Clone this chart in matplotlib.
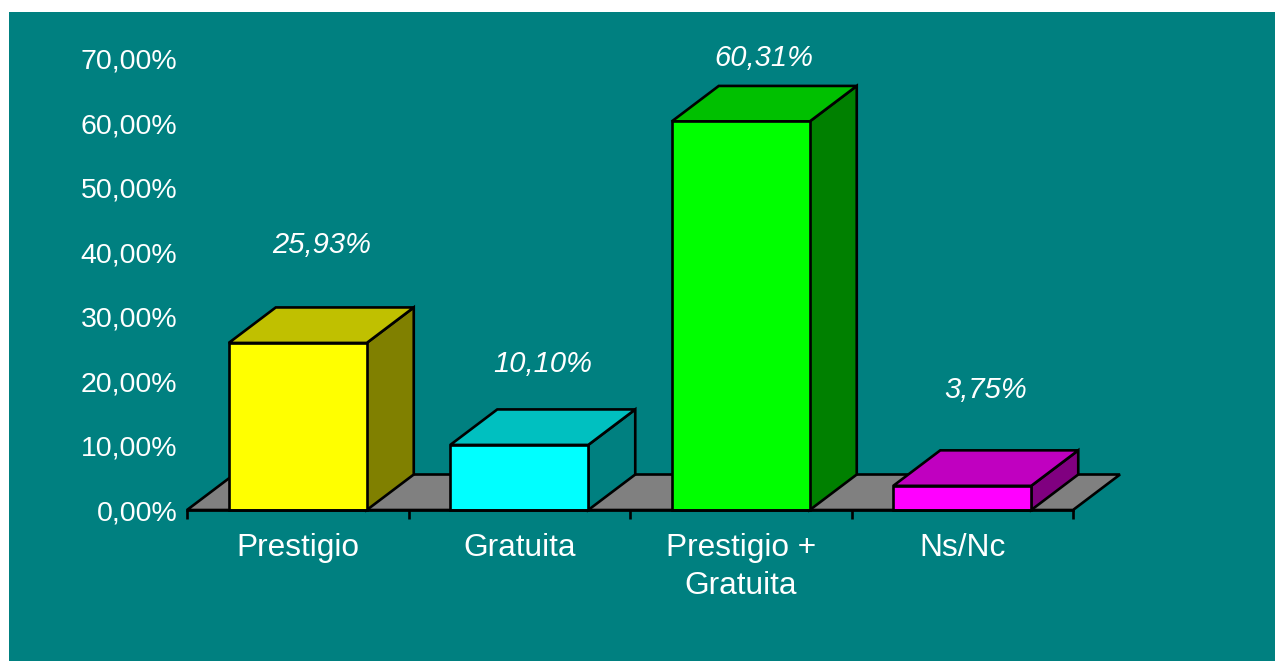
import matplotlib
matplotlib.use("Agg")
import matplotlib.pyplot as plt
from matplotlib.patches import Polygon, Rectangle
from matplotlib.ticker import FuncFormatter

# ---- data ----
categories = ["Prestigio", "Gratuita", "Prestigio +\nGratuita", "Ns/Nc"]
values = [25.93, 10.10, 60.31, 3.75]
value_labels = ["25,93%", "10,10%", "60,31%", "3,75%"]
yticks = [0, 10, 20, 30, 40, 50, 60, 70]

# ---- style ----
front_colors = ["#FFFF00", "#00FFFF", "#00FF00", "#FF00FF"]
top_colors = ["#C0C000", "#00C0C0", "#00C000", "#C000C0"]
side_colors = ["#808000", "#008080", "#008000", "#800080"]
label_lift = [15.2, 12.6, 9.9, 14.9]  # label position above bar (layout, in axis units)
BG = "#008080"
FLOOR = "#808080"

W, H = 1275, 661
fig = plt.figure(figsize=(W / 100, H / 100), dpi=100)
fig.patch.set_facecolor("white")
fig.patches.append(Rectangle((9 / W, 0), 1 - 9 / W, (H - 12) / H,
                             transform=fig.transFigure, facecolor=BG,
                             edgecolor="none", zorder=-10))

x0, x1 = 187, 1073
y0, y70 = 510, 59
ax = fig.add_axes([x0 / W, (H - y0) / H, (x1 - x0) / W, (y0 - y70) / H])
ax.set_zorder(5)
ax.set_facecolor("none")
ax.set_xlim(-0.5, 3.5)
ax.set_ylim(0, 70)
for s in ax.spines.values():
    s.set_visible(False)

bw = 138 / 221.5
dx = 47 / 221.5
dy = 35.5 / ((y0 - y70) / 70)
lw = 1.9

# floor
ax.add_patch(Polygon([(-0.5, 0), (3.5, 0), (3.5 + dx, dy), (-0.5 + dx, dy)],
                     closed=True, facecolor=FLOOR, edgecolor="black",
                     linewidth=lw, clip_on=False, zorder=1, joinstyle="miter"))

for i, v in enumerate(values):
    l, r = i - bw / 2, i + bw / 2
    ax.add_patch(Polygon([(r, 0), (r + dx, dy), (r + dx, v + dy), (r, v)],
                         closed=True, facecolor=side_colors[i], edgecolor="black",
                         linewidth=lw, clip_on=False, zorder=2, joinstyle="miter"))
    ax.add_patch(Polygon([(l, v), (r, v), (r + dx, v + dy), (l + dx, v + dy)],
                         closed=True, facecolor=top_colors[i], edgecolor="black",
                         linewidth=lw, clip_on=False, zorder=2, joinstyle="miter"))
    ax.add_patch(Polygon([(l, 0), (r, 0), (r, v), (l, v)],
                         closed=True, facecolor=front_colors[i], edgecolor="black",
                         linewidth=lw, clip_on=False, zorder=3, joinstyle="miter"))
    ax.text(i + dx / 2, v + label_lift[i], value_labels[i], ha="center", va="center",
            color="white", fontsize=21, style="italic", family="Liberation Sans",
            clip_on=False)

# front edge of floor (axis line)
ax.plot([-0.5, 3.5], [0, 0], color="black", linewidth=lw, clip_on=False, zorder=4)

ax.set_yticks(yticks)
ax.yaxis.set_major_formatter(FuncFormatter(lambda v, p: f"{v:.2f}".replace(".", ",") + "%"))
ax.tick_params(axis="y", length=0, pad=7, labelsize=20.5, labelcolor="white")

ax.set_xticks(range(len(categories)))
ax.set_xticklabels(categories)
ax.set_xticks([-0.5, 0.5, 1.5, 2.5, 3.5], minor=True)
ax.tick_params(axis="x", which="major", length=0, pad=16.5, labelsize=22.8, labelcolor="white")
ax.tick_params(axis="x", which="minor", length=6.5, width=lw, color="black", direction="out")

for t in ax.get_yticklabels():
    t.set_family("Liberation Sans")
for t in ax.get_xticklabels():
    t.set_family("Liberation Sans")
    t.set_linespacing(1.36)

fig.savefig("out.png", dpi=100, facecolor=fig.get_facecolor())
